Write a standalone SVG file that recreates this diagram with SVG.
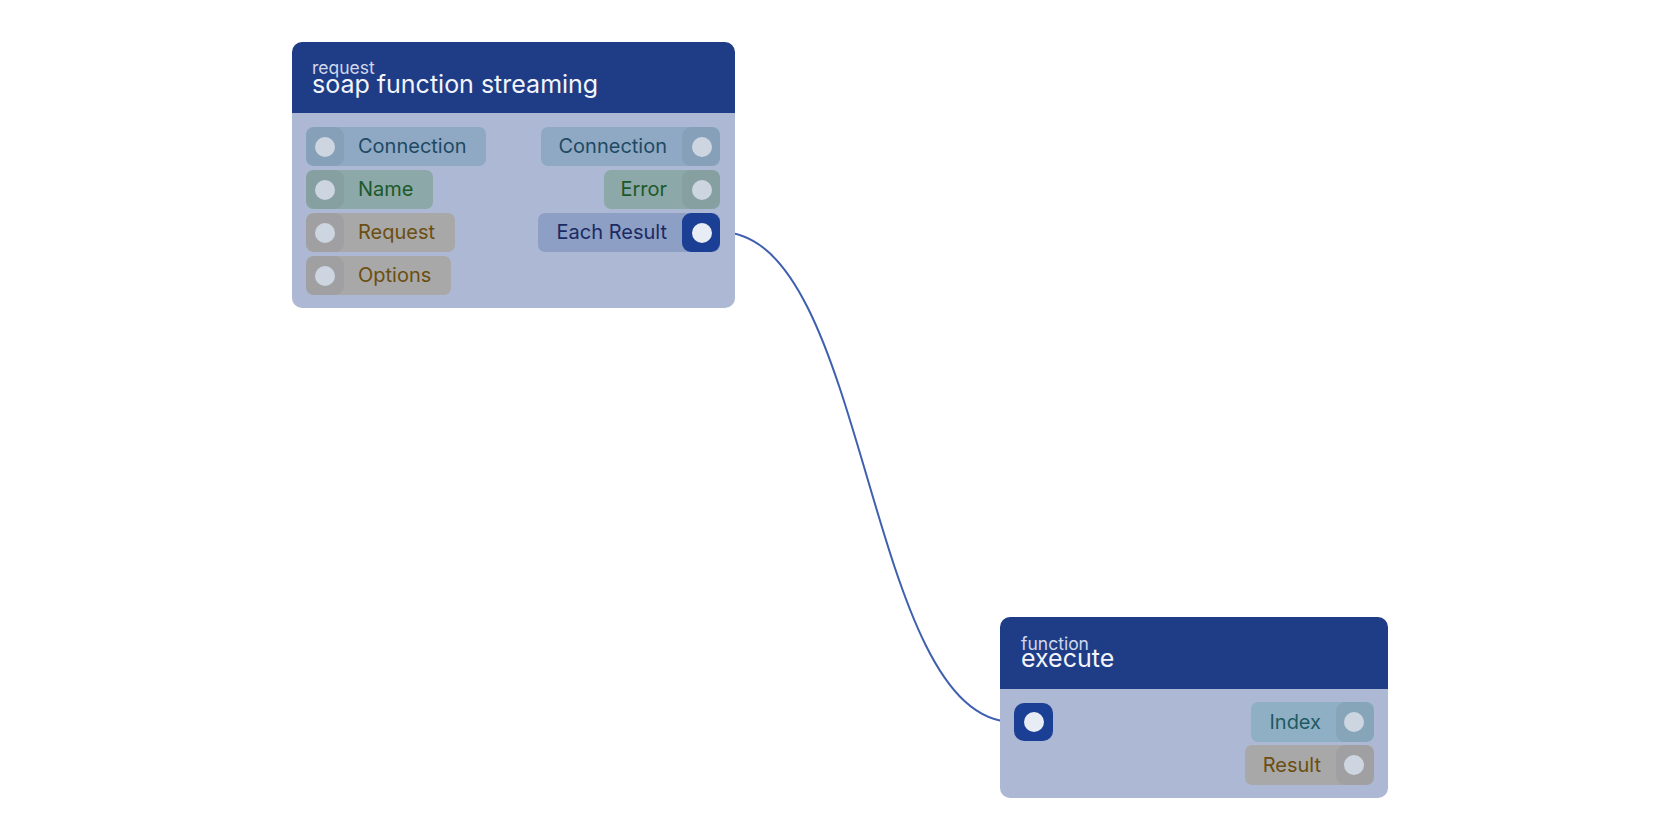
<svg xmlns="http://www.w3.org/2000/svg" width="1680" height="840" viewBox="0 0 1680 840">
<style>
text{font-family:Inter,"Noto Sans","Liberation Sans",sans-serif}
.hd{fill:#1f3d87}.bd{fill:#adb9d4}
.t1{fill:#d0d8ec;font-size:17.5px}.t2{fill:#f2f4fa;font-size:25px}
.lb{font-size:20px}
.conn{fill:#8fa9c4}.connp{fill:#87a0b9}.connt{fill:#1e4a63}
.nm{fill:#8ca8a8}.nmp{fill:#86a0a2}.nmt{fill:#1a5a2a}
.rq{fill:#a8a8a8}.rqp{fill:#a0a0a2}.rqt{fill:#6b4e10}
.er{fill:#8d9fc4}.erp{fill:#1c3f96}.ert{fill:#1c2a63}
.ix{fill:#8fb0c4}.ixp{fill:#86a5b9}.ixt{fill:#1e5a63}
.c{fill:#cdd6e0}.cs{fill:#e8ecf5}
</style>
<g id="connectors"><path d="M720,232 C870,232 864,722 1014,722" fill="none" stroke="#3f5fb0" stroke-width="2"/></g>
<g id="node-soap">
<path class="hd" d="M292,113 V52 a10,10 0 0 1 10,-10 H725 a10,10 0 0 1 10,10 V113 Z"/>
<path class="bd" d="M292,113 H735 V298 a10,10 0 0 1 -10,10 H302 a10,10 0 0 1 -10,-10 Z"/>
<text class="t1" x="312" y="74">request</text>
<text class="t2" x="312" y="93">soap function streaming</text>
<rect class="conn" x="306" y="127" width="180" height="39" rx="7"/><rect class="connp" x="306" y="127" width="38" height="39" rx="9"/><circle class="c" cx="325" cy="147" r="10"/><text class="lb connt" x="358" y="153">Connection</text>
<rect class="nm" x="306" y="170" width="127" height="39" rx="7"/><rect class="nmp" x="306" y="170" width="38" height="39" rx="9"/><circle class="c" cx="325" cy="190" r="10"/><text class="lb nmt" x="358" y="196">Name</text>
<rect class="rq" x="306" y="213" width="149" height="39" rx="7"/><rect class="rqp" x="306" y="213" width="38" height="39" rx="9"/><circle class="c" cx="325" cy="233" r="10"/><text class="lb rqt" x="358" y="239">Request</text>
<rect class="rq" x="306" y="256" width="145" height="39" rx="7"/><rect class="rqp" x="306" y="256" width="38" height="39" rx="9"/><circle class="c" cx="325" cy="276" r="10"/><text class="lb rqt" x="358" y="282">Options</text>
<rect class="conn" x="541" y="127" width="179" height="39" rx="7"/><rect class="connp" x="682" y="127" width="38" height="39" rx="9"/><circle class="c" cx="702" cy="147" r="10"/><text class="lb connt" x="667" y="153" text-anchor="end">Connection</text>
<rect class="nm" x="604" y="170" width="116" height="39" rx="7"/><rect class="nmp" x="682" y="170" width="38" height="39" rx="9"/><circle class="c" cx="702" cy="190" r="10"/><text class="lb nmt" x="667" y="196" text-anchor="end">Error</text>
<rect class="er" x="538" y="213" width="182" height="39" rx="7"/><rect class="erp" x="682" y="213" width="38" height="39" rx="9"/><circle class="cs" cx="702" cy="233" r="10"/><text class="lb ert" x="667" y="239" text-anchor="end">Each Result</text>
</g>
<g id="node-execute">
<path class="hd" d="M1000,689 V627 a10,10 0 0 1 10,-10 H1378 a10,10 0 0 1 10,10 V689 Z"/>
<path class="bd" d="M1000,689 H1388 V788 a10,10 0 0 1 -10,10 H1010 a10,10 0 0 1 -10,-10 Z"/>
<text class="t1" x="1021" y="650">function</text>
<text class="t2" x="1021" y="667">execute</text>
<rect class="erp" x="1014" y="703" width="39" height="38" rx="10"/><circle class="cs" cx="1034" cy="722" r="10"/>
<rect class="ix" x="1251" y="702" width="123" height="40" rx="7"/><rect class="ixp" x="1336" y="702" width="38" height="40" rx="9"/><circle class="c" cx="1354" cy="722" r="10"/><text class="lb ixt" x="1321" y="729" text-anchor="end">Index</text>
<rect class="rq" x="1245" y="745" width="129" height="40" rx="7"/><rect class="rqp" x="1336" y="745" width="38" height="40" rx="9"/><circle class="c" cx="1354" cy="765" r="10"/><text class="lb rqt" x="1321" y="772" text-anchor="end">Result</text>
</g>
</svg>
